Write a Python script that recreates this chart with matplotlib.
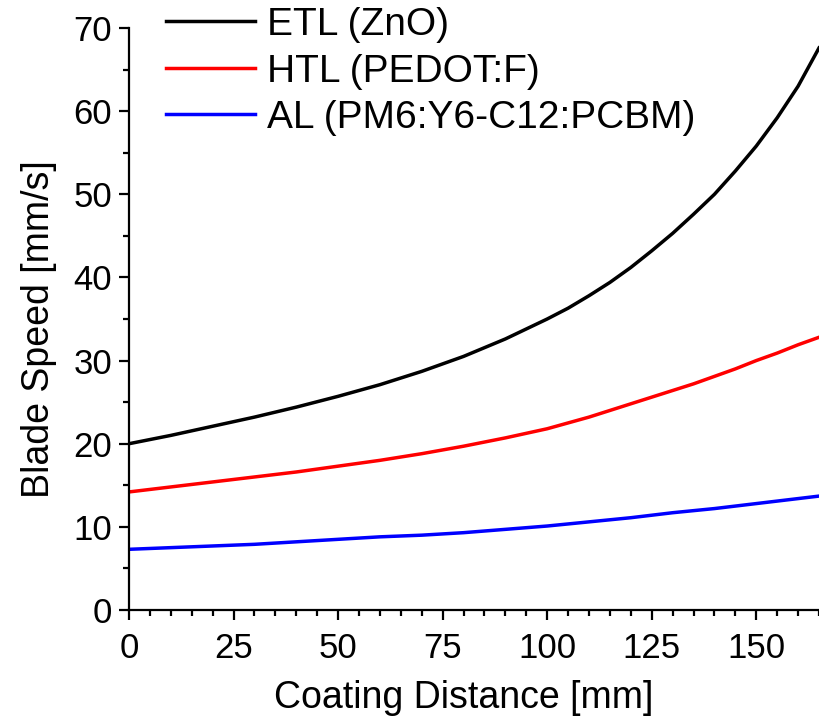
import matplotlib.pyplot as plt
from matplotlib.ticker import MultipleLocator

plt.rcParams["font.family"] = ["Liberation Sans", "DejaVu Sans"]

# coating distance [mm] and blade speed [mm/s]
distance = [0, 10, 20, 30, 40, 50, 60, 70, 80, 90, 100, 105, 110, 115, 120, 125,
            130, 135, 140, 145, 150, 155, 160, 165]
etl_speed = [20.0, 21.0, 22.1, 23.2, 24.4, 25.7, 27.1, 28.7, 30.5, 32.6, 35.0, 36.3, 37.8,
             39.4, 41.2, 43.2, 45.3, 47.6, 50.0, 52.8, 55.8, 59.2, 63.0, 67.6]
htl_speed = [14.2, 14.8, 15.4, 16.0, 16.6, 17.3, 18.0, 18.8, 19.7, 20.7, 21.8, 22.5, 23.2,
             24.0, 24.8, 25.6, 26.4, 27.2, 28.1, 29.0, 30.0, 30.9, 31.9, 32.8]
al_speed = [7.3, 7.5, 7.7, 7.9, 8.2, 8.5, 8.8, 9.0, 9.3, 9.7, 10.1, 10.35, 10.6,
            10.85, 11.1, 11.4, 11.7, 11.95, 12.2, 12.5, 12.8, 13.1, 13.4, 13.7]

labels = ["ETL (ZnO)", "HTL (PEDOT:F)", "AL (PM6:Y6-C12:PCBM)"]
colors = ["black", "#ff0000", "#0000ff"]

fig = plt.figure(figsize=(8.19, 7.28), dpi=100)
ax = fig.add_axes([129 / 819, 1 - 610 / 728, 1 - 129 / 819, (610 - 28) / 728])

for ys, lab, col in zip([etl_speed, htl_speed, al_speed], labels, colors):
    ax.plot(distance, ys, color=col, lw=2.5, label=lab)

ax.set_xlim(0, 165)
ax.set_ylim(0, 70)
ax.xaxis.set_major_locator(MultipleLocator(25))
ax.xaxis.set_minor_locator(MultipleLocator(5))
ax.yaxis.set_major_locator(MultipleLocator(10))
ax.yaxis.set_minor_locator(MultipleLocator(5))

for side in ["top", "right"]:
    ax.spines[side].set_visible(False)
for side in ["left", "bottom"]:
    ax.spines[side].set_linewidth(1.6)

ax.tick_params(which="major", direction="out", length=7, width=1.6, labelsize=25)
ax.tick_params(axis="x", which="major", pad=9)
ax.tick_params(axis="y", which="major", pad=5)
ax.tick_params(which="minor", direction="out", length=4, width=1.6)

ax.set_xlabel("Coating Distance [mm]", fontsize=27)
ax.set_ylabel("Blade Speed [mm/s]", fontsize=27)
ax.xaxis.set_label_coords(0.485, -0.12)
ax.yaxis.set_label_coords(-0.105, 0.483)

fig.legend(loc="upper left", bbox_to_anchor=(166 / 819, 1 - 7 / 728), frameon=False,
           fontsize=28, handlelength=2.3, handletextpad=0.3, labelspacing=0.27,
           borderpad=0, borderaxespad=0)

fig.savefig("out.png", dpi=100)
